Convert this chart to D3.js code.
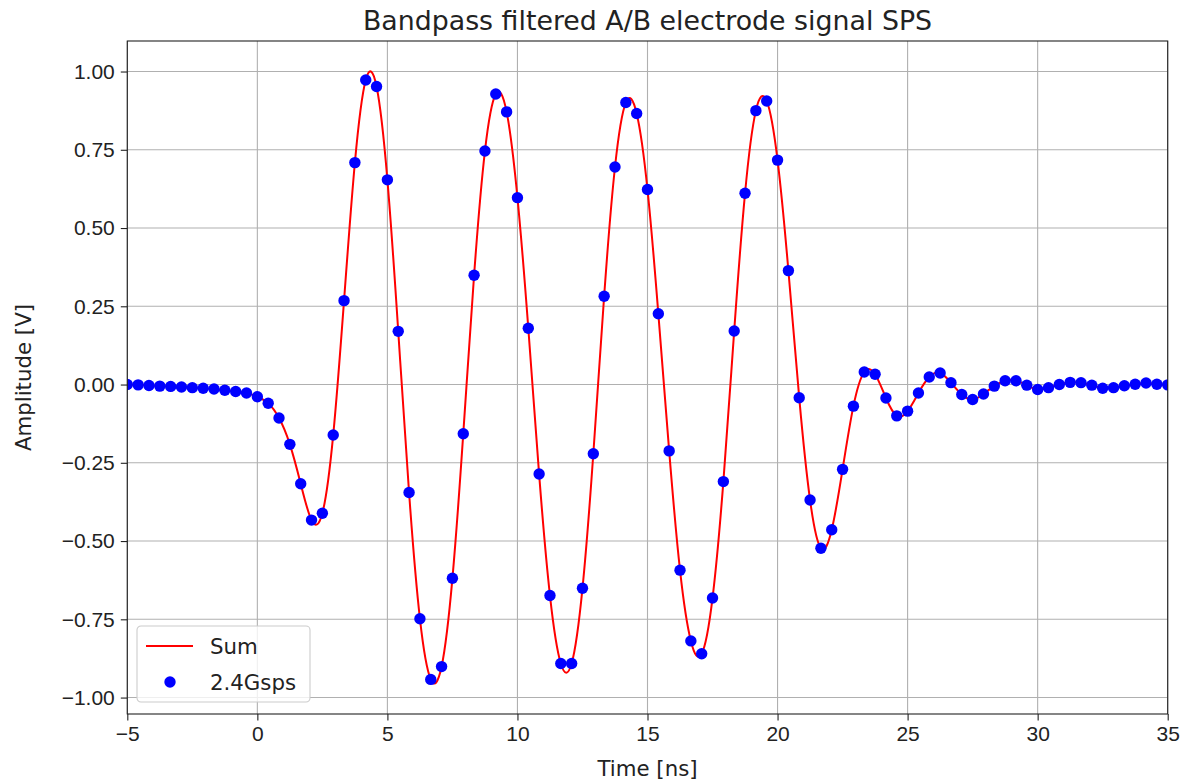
<!DOCTYPE html>
<html lang="en">
  <head>
    <title>Bandpass filtered A/B electrode signal SPS</title>
    <meta charset="UTF-8">
    <script src="https://d3js.org/d3.v7.min.js"></script>
    <style>
      * {
        margin: 0;
        padding: 0;
      }
      body {
        background: white;
      }
      svg {
        display: block;
        font-family: 'DejaVu Sans', sans-serif;
      }
      .grid line {
        stroke: #b0b0b0;
        stroke-width: 1.1;
      }
      .axis path, .axis line {
        stroke: #222;
        stroke-width: 1.1;
      }
      .axis text {
        font-size: 21px;
        fill: #222;
      }
    </style>
  </head>
  <body>
    <script>
      // sample times (ns), 2.4 Gsps
      const times = [
        -5.000, -4.583, -4.167, -3.750, -3.333, -2.917, -2.500, -2.083, -1.667, -1.250, -0.833, -0.417,
        0.000, 0.417, 0.833, 1.250, 1.667, 2.083, 2.500, 2.917, 3.333, 3.750, 4.167, 4.583,
        5.000, 5.417, 5.833, 6.250, 6.667, 7.083, 7.500, 7.917, 8.333, 8.750, 9.167, 9.583,
        10.000, 10.417, 10.833, 11.250, 11.667, 12.083, 12.500, 12.917, 13.333, 13.750, 14.167, 14.583,
        15.000, 15.417, 15.833, 16.250, 16.667, 17.083, 17.500, 17.917, 18.333, 18.750, 19.167, 19.583,
        20.000, 20.417, 20.833, 21.250, 21.667, 22.083, 22.500, 22.917, 23.333, 23.750, 24.167, 24.583,
        25.000, 25.417, 25.833, 26.250, 26.667, 27.083, 27.500, 27.917, 28.333, 28.750, 29.167, 29.583,
        30.000, 30.417, 30.833, 31.250, 31.667, 32.083, 32.500, 32.917, 33.333, 33.750, 34.167, 34.583,
        35.000
      ]
      // sampled amplitude (V)
      const amplitude = [
        0.000, -0.001, -0.003, -0.005, -0.006, -0.008, -0.010, -0.012, -0.014, -0.018, -0.022, -0.027,
        -0.039, -0.060, -0.107, -0.191, -0.317, -0.433, -0.411, -0.161, 0.268, 0.709, 0.973, 0.952,
        0.654, 0.170, -0.345, -0.748, -0.942, -0.901, -0.619, -0.157, 0.349, 0.746, 0.928, 0.871,
        0.597, 0.180, -0.286, -0.674, -0.891, -0.891, -0.651, -0.221, 0.282, 0.695, 0.901, 0.866,
        0.623, 0.226, -0.212, -0.593, -0.819, -0.860, -0.682, -0.310, 0.171, 0.611, 0.875, 0.906,
        0.717, 0.364, -0.042, -0.369, -0.523, -0.464, -0.271, -0.069, 0.040, 0.033, -0.043, -0.100,
        -0.085, -0.027, 0.024, 0.037, 0.006, -0.032, -0.048, -0.030, -0.005, 0.012, 0.012, -0.002,
        -0.016, -0.010, 0.000, 0.007, 0.006, -0.002, -0.012, -0.010, -0.004, 0.001, 0.005, 0.001,
        -0.001
      ]
      const xTicks = [-5, 0, 5, 10, 15, 20, 25, 30, 35]
      const yTicks = [-1.00, -0.75, -0.50, -0.25, 0.00, 0.25, 0.50, 0.75, 1.00]
      const legendLabels = ["Sum", "2.4Gsps"]

      const width = 1181
      const height = 782
      const margin = {left: 127.3, right: 1181 - 1167.7, top: 41, bottom: 782 - 714}
      const innerW = width - margin.left - margin.right
      const innerH = height - margin.top - margin.bottom

      const data = times.map((t, i) => [t, amplitude[i]])
      const minus = (s) => s.replace("-", "\u2212")

      const xScale = d3.scaleLinear().domain([-5, 35]).range([0, innerW])
      const yScale = d3.scaleLinear().domain([-1.0525, 1.0975]).range([innerH, 0])

      const svg = d3.select("body")
                    .append("svg")
                    .attr("width", width)
                    .attr("height", height)

      const g = svg.append("g")
                   .attr("transform", "translate(" + margin.left + "," + margin.top + ")")

      svg.append("defs").append("clipPath")
         .attr("id", "clip")
         .append("rect")
         .attr("width", innerW)
         .attr("height", innerH)

      // grid
      g.append("g").attr("class", "grid")
       .selectAll("line.v").data(xTicks).enter().append("line")
       .attr("x1", (d) => xScale(d)).attr("x2", (d) => xScale(d))
       .attr("y1", 0).attr("y2", innerH)
      g.append("g").attr("class", "grid")
       .selectAll("line.h").data(yTicks).enter().append("line")
       .attr("y1", (d) => yScale(d)).attr("y2", (d) => yScale(d))
       .attr("x1", 0).attr("x2", innerW)

      // sum curve + samples
      const plot = g.append("g").attr("clip-path", "url(#clip)")
      const line = d3.line()
                     .x((d) => xScale(d[0]))
                     .y((d) => yScale(d[1]))
                     .curve(d3.curveNatural)
      plot.append("path")
          .datum(data)
          .attr("d", line)
          .attr("fill", "none")
          .attr("stroke", "#ff0000")
          .attr("stroke-width", 2)
      plot.selectAll("circle")
          .data(data)
          .enter()
          .append("circle")
          .attr("cx", (d) => xScale(d[0]))
          .attr("cy", (d) => yScale(d[1]))
          .attr("r", 5.7)
          .attr("fill", "#0000ff")

      // axes
      const xAxis = d3.axisBottom(xScale).tickValues(xTicks)
                      .tickSize(6.5).tickPadding(6)
                      .tickFormat((d) => minus(d3.format("d")(d)))
      const yAxis = d3.axisLeft(yScale).tickValues(yTicks)
                      .tickSize(6.5).tickPadding(6)
                      .tickFormat((d) => minus(d3.format(".2f")(d)))

      g.append("g").attr("class", "axis")
       .attr("transform", "translate(0," + innerH + ")")
       .call(xAxis)
       .call((s) => s.select(".domain").remove())
      g.append("g").attr("class", "axis")
       .call(yAxis)
       .call((s) => s.select(".domain").remove())

      // frame
      g.append("rect")
       .attr("width", innerW).attr("height", innerH)
       .attr("fill", "none").attr("stroke", "#222").attr("stroke-width", 1.1)

      // title and labels
      svg.append("text")
         .text("Bandpass filtered A/B electrode signal SPS")
         .attr("x", margin.left + innerW / 2).attr("y", 30)
         .attr("text-anchor", "middle")
         .attr("font-size", "26.8px").attr("fill", "#222")
      svg.append("text")
         .text("Time [ns]")
         .attr("x", margin.left + innerW / 2).attr("y", 776)
         .attr("text-anchor", "middle")
         .attr("font-size", "21.3px").attr("fill", "#222")
      svg.append("text")
         .text("Amplitude [V]")
         .attr("transform", "translate(31," + (margin.top + innerH / 2) + ") rotate(-90)")
         .attr("text-anchor", "middle")
         .attr("font-size", "21.3px").attr("fill", "#222")

      // legend
      const lg = svg.append("g").attr("transform", "translate(137,626)")
      lg.append("rect")
        .attr("width", 173).attr("height", 76).attr("rx", 4)
        .attr("fill", "white").attr("fill-opacity", 0.8)
        .attr("stroke", "#cccccc").attr("stroke-width", 1.1)
      lg.append("line")
        .attr("x1", 9).attr("x2", 56).attr("y1", 20).attr("y2", 20)
        .attr("stroke", "#ff0000").attr("stroke-width", 2)
      lg.append("circle")
        .attr("cx", 33).attr("cy", 56).attr("r", 5.7).attr("fill", "#0000ff")
      lg.selectAll("text.lab")
        .data(legendLabels)
        .enter()
        .append("text")
        .text((d) => d)
        .attr("x", 73)
        .attr("y", (d, i) => 27.5 + i * 36)
        .attr("font-size", "21.3px").attr("fill", "#222")
    </script>
  </body>
</html>
